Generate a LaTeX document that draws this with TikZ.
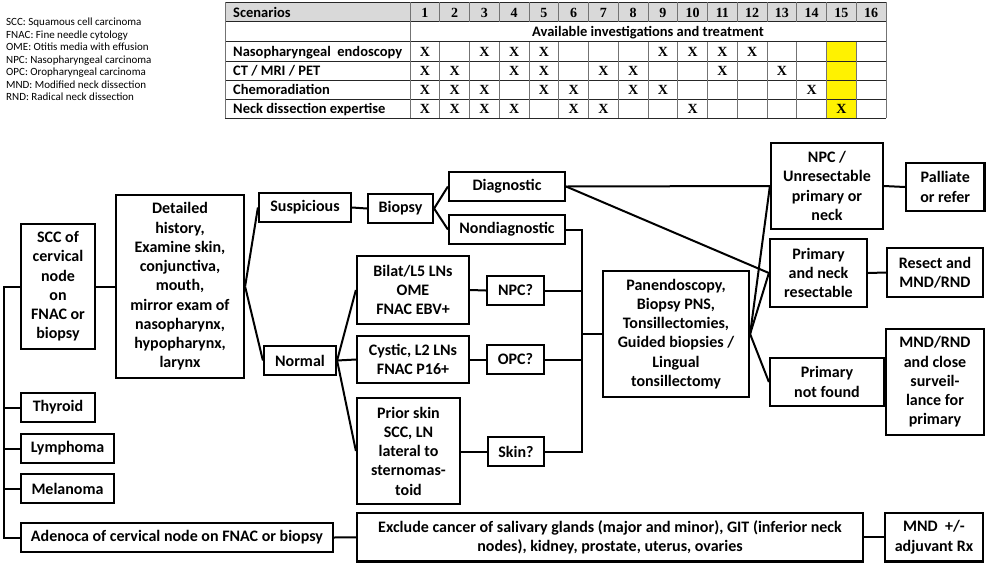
\documentclass[tikz,border=0pt]{standalone}
\usepackage{fontspec}
\setmainfont{Carlito}
\newfontfamily\tnr{Liberation Serif}
\newcommand\mybox[6]{\node[box,minimum width={(#3-#2)*1pt},minimum height={(#5-#4)*1pt}] (#1) at ({(#2+#3)/2},{(#4+#5)/2}) {#6};}
\begin{document}
\begin{tikzpicture}[x=1pt,y=-1pt,
 box/.style={draw=black,line width=2.2pt,fill=white,inner sep=1pt,align=center,font=\fontsize{16}{19.25}\selectfont\bfseries},
 conn/.style={draw=black,line width=2pt},
 hline/.style={draw=black!85,line width=1pt},
 vline/.style={draw=black!55,line width=1pt},
 tlab/.style={anchor=base west,inner sep=0pt,font=\fontsize{14.5}{16}\selectfont\bfseries},
 tnum/.style={anchor=base,inner sep=0pt,font=\fontsize{14}{16}\selectfont\tnr\bfseries},
 legend/.style={anchor=base west,inner sep=0pt,font=\fontsize{11}{12.5}\selectfont}]
\useasboundingbox (0,0) rectangle (986,563);
% legend
\node[legend] (leg1) at (6,25.5) {SCC: Squamous cell carcinoma};
\node[legend] (leg2) at (6,38) {FNAC: Fine needle cytology};
\node[legend] (leg3) at (6,50.5) {OME: Otitis media with effusion};
\node[legend] (leg4) at (6,63) {NPC: Nasopharyngeal carcinoma};
\node[legend] (leg5) at (6,75.5) {OPC: Oropharyngeal carcinoma};
\node[legend] (leg6) at (6,88) {MND: Modified neck dissection};
\node[legend] (leg7) at (6,100.5) {RND: Radical neck dissection};
% table
\fill[black!15] (225,2) rectangle (886,21.5);
\fill[yellow] (826.5,41.5) rectangle (856.25,118);
\foreach \y in {2,21.5,41.5,61,80,99,118} \draw[hline] (225,\y) -- (886,\y);
\foreach \x in {225,410,886} \draw[vline] (\x,2) -- (\x,118);
\foreach \k in {1,...,15} {
  \draw[vline] ({410+29.75*\k},2) -- ({410+29.75*\k},21.5);
  \draw[vline] ({410+29.75*\k},41.5) -- ({410+29.75*\k},118);
}
\node[tlab] (tscen) at (233,17) {Scenarios};
\foreach \k in {1,...,16} \node[tnum] (th\k) at ({410+29.75*(\k-0.5)},17) {\k};
\node[tlab,anchor=base] (tavail) at (648,36.5) {Available investigations and treatment};
\node[tlab] (tr1) at (233,56) {Nasopharyngeal\ \ endoscopy};
\node[tlab] (tr2) at (233,75.5) {CT / MRI / PET};
\node[tlab] (tr3) at (233,94.5) {Chemoradiation};
\node[tlab] (tr4) at (233,113.5) {Neck dissection expertise};
\foreach \c in {1,3,4,5,9,10,11,12} \node[tnum] (xa\c) at ({410+29.75*(\c-0.5)},56) {X};
\foreach \c in {1,2,4,5,7,8,11,13} \node[tnum] (xb\c) at ({410+29.75*(\c-0.5)},75.5) {X};
\foreach \c in {1,2,3,5,6,8,9,14} \node[tnum] (xc\c) at ({410+29.75*(\c-0.5)},94.5) {X};
\foreach \c in {1,2,3,4,6,7,10,15} \node[tnum] (xd\c) at ({410+29.75*(\c-0.5)},113.5) {X};
% boxes
\mybox{scc}{21}{95}{224}{349}{SCC of\\cervical\\node\\on\\FNAC or\\biopsy}
\mybox{det}{116}{244}{195}{378}{Detailed\\history,\\Examine skin,\\conjunctiva,\\mouth,\\mirror exam of\\nasopharynx,\\hypopharynx,\\larynx}
\mybox{susp}{259}{351}{193}{222}{Suspicious}
\mybox{normal}{264}{336}{346}{375}{Normal}
\mybox{biopsy}{368}{433}{194}{223}{Biopsy}
\mybox{diag}{449}{565}{172}{201}{Diagnostic}
\mybox{nondiag}{449}{565}{215}{244}{Nondiagnostic}
\mybox{bilat}{357}{469}{256}{324}{Bilat/L5 LNs\\OME\\FNAC EBV+}
\mybox{npcq}{487}{544}{276}{305}{NPC?}
\mybox{cystic}{357}{469}{336}{383}{Cystic, L2 LNs\\FNAC P16+}
\mybox{opcq}{487}{544}{345}{374}{OPC?}
\mybox{prior}{357}{460}{398}{504}{Prior skin\\SCC, LN\\lateral to\\sternomas-\\toid}
\mybox{skinq}{488}{544}{437}{466}{Skin?}
\mybox{pan}{603}{749}{271}{397}{Panendoscopy,\\Biopsy PNS,\\Tonsillectomies,\\Guided biopsies /\\Lingual\\tonsillectomy}
\mybox{npcu}{771}{883}{143}{229}{NPC /\\Unresectable\\primary or\\neck}
\mybox{pall}{906}{984.5}{163}{211}{Palliate\\or refer}
\mybox{prn}{770}{867}{239}{307}{Primary\\and neck\\resectable}
\mybox{resect}{887}{983}{248}{297}{Resect and\\MND/RND}
\mybox{pnf}{770}{884}{358}{406}{Primary\\not found}
\mybox{mndc}{886}{984}{329}{435}{MND/RND\\and close\\surveil-\\lance for\\primary}
\mybox{thy}{21}{95}{393}{422}{Thyroid}
\mybox{lym}{21}{114}{434}{463}{Lymphoma}
\mybox{mel}{21}{114}{474}{503}{Melanoma}
\mybox{adeno}{21}{333}{523}{552}{Adenoca of cervical node on FNAC or biopsy}
\mybox{excl}{357}{863}{513}{561.5}{Exclude cancer of salivary glands (major and minor), GIT (inferior neck\\nodes), kidney, prostate, uterus, ovaries}
\mybox{mndadj}{885}{983}{513}{561.5}{MND\ \ +/-\\adjuvant Rx}
% connectors
\coordinate (spine) at (4,0);
\coordinate (bus) at (582,0);
\draw[conn] (scc.west) -- (scc.west -| spine) -- (adeno.west -| spine) -- (adeno.west);
\draw[conn] (thy.west) -- (thy.west -| spine);
\draw[conn] (lym.west) -- (lym.west -| spine);
\draw[conn] (mel.west) -- (mel.west -| spine);
\draw[conn] (scc.east) -- (det.west);
\draw[conn] (det.east) -- (susp.west);
\draw[conn] (det.east) -- (normal.west);
\draw[conn] (susp.east) -- (biopsy.west);
\draw[conn] (biopsy.east) -- (diag.west);
\draw[conn] (biopsy.east) -- (nondiag.west);
\draw[conn] (normal.east) -- (bilat.west);
\draw[conn] (normal.east) -- (cystic.west);
\draw[conn] (normal.east) -- (prior.west);
\draw[conn] (bilat.east) -- (npcq.west);
\draw[conn] (cystic.east) -- (opcq.west);
\draw[conn] (prior.east |- skinq.west) -- (skinq.west);
\draw[conn] (nondiag.east) -- (nondiag.east -| bus) |- (skinq.east);
\draw[conn] (npcq.east) -- (npcq.east -| bus);
\draw[conn] (opcq.east) -- (opcq.east -| bus);
\draw[conn] (pan.west) -- (pan.west -| bus);
\draw[conn] (diag.east) -- (npcu.west);
\draw[conn] (diag.east) -- (prn.west);
\draw[conn] (pan.east) -- (npcu.west);
\draw[conn] (pan.east) -- (prn.west);
\draw[conn] (pan.east) -- (pnf.west);
\draw[conn] (npcu.east) -- (pall.west);
\draw[conn] (prn.east) -- (resect.west);
\draw[conn] (pnf.east) -- (mndc.west);
\draw[conn] (adeno.east) -- (excl.west);
\draw[conn] (excl.east) -- (mndadj.west);
\end{tikzpicture}
\end{document}
